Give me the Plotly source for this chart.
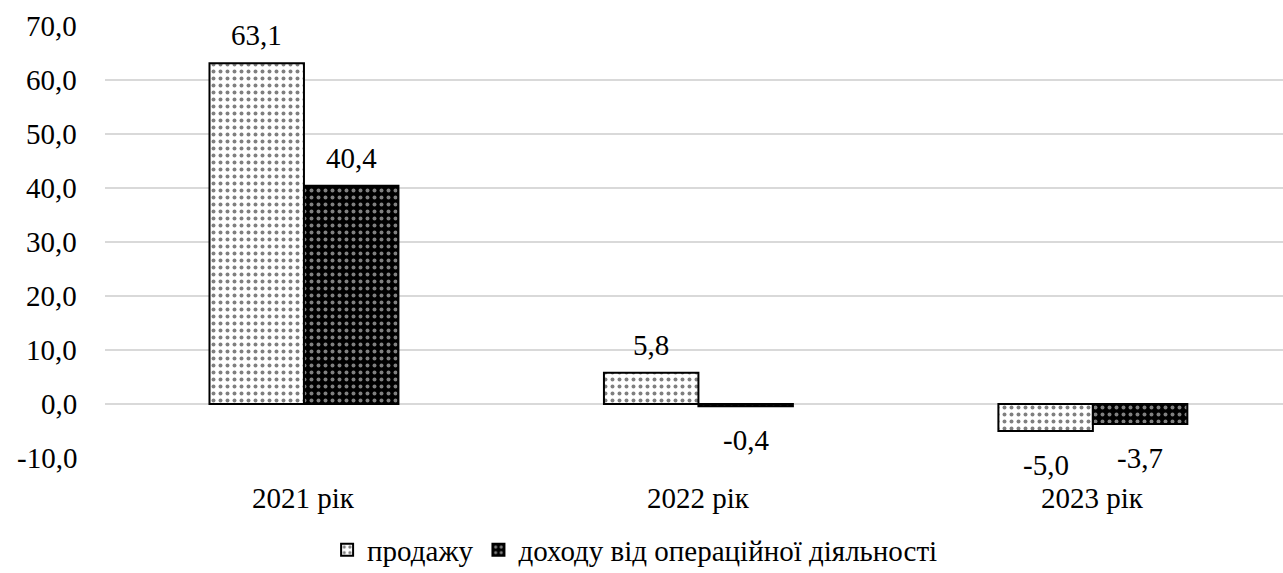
import plotly.graph_objects as go

categories = ["2021 рік", "2022 рік", "2023 рік"]
sales = [63.1, 5.8, -5.0]
income = [40.4, -0.4, -3.7]
series_names = ["продажу", "доходу від операційної діяльності"]
y_ticks = [-10, 0, 10, 20, 30, 40, 50, 60, 70]


def fmt(v):
    return f"{v:.1f}".replace(".", ",")


FF = "Liberation Serif, Times New Roman, serif"
FS = 29
TXT = dict(family=FF, size=FS, color="black")

W, H = 1283, 573
L, R, T, B = 105, 0, 26, 115
X_RANGE = [-0.5044, 2.482]
BARGAP = 0.521

fig = go.Figure()
fig.add_trace(go.Bar(
    x=categories, y=sales, name=series_names[0], hoverinfo="skip",
    marker=dict(color="white", line=dict(color="black", width=2),
                pattern=dict(shape=".", fgcolor="black", bgcolor="white", size=7, solidity=0.25)),
))
fig.add_trace(go.Bar(
    x=categories, y=income, name=series_names[1], hoverinfo="skip",
    marker=dict(color="black", line=dict(color="black", width=2),
                pattern=dict(shape=".", fgcolor="white", bgcolor="black", size=7, solidity=0.25)),
))

# pixel width of one bar (derived from the axis scale and bargap)
cat_px = (W - L - R) / (X_RANGE[1] - X_RANGE[0])
bar_px = cat_px * (1 - BARGAP) / 2

annotations = []
# y-axis tick labels
for v in y_ticks:
    annotations.append(dict(xref="paper", x=0, yref="y", y=v, xanchor="right", yanchor="middle",
                            xshift=-26, text=fmt(v), showarrow=False, font=TXT))
# x-axis category labels
for c in categories:
    annotations.append(dict(xref="x", x=c, yref="paper", y=0, xanchor="center", yanchor="middle",
                            yshift=-40, text=c, showarrow=False, font=TXT))
# data labels
for series, side in ((sales, -1), (income, 1)):
    for c, v in zip(categories, series):
        annotations.append(dict(xref="x", x=c, yref="y", y=v, xanchor="center", yanchor="middle",
                                xshift=side * bar_px / 2, yshift=28 if v >= 0 else -34,
                                text=fmt(v), showarrow=False, font=TXT))

fig.update_layout(
    width=W, height=H,
    paper_bgcolor="white", plot_bgcolor="white",
    barmode="group", bargap=BARGAP, bargroupgap=0,
    font=TXT, hovermode=False,
    margin=dict(l=L, r=R, t=T, b=B, autoexpand=False),
    showlegend=True,
    legend=dict(orientation="h", x=0.45, xanchor="center", y=-0.213, yanchor="middle",
                font=TXT, bgcolor="rgba(0,0,0,0)",
                traceorder="normal", itemwidth=30),
    yaxis=dict(range=[-10, 70], tickvals=y_ticks, showticklabels=False,
               showgrid=True, gridcolor="#d9d9d9", gridwidth=1.5,
               zeroline=True, zerolinecolor="#d9d9d9", zerolinewidth=1.5,
               showline=False, ticks="", automargin=False),
    xaxis=dict(range=X_RANGE, showline=False, showgrid=False, zeroline=False,
               showticklabels=False, ticks="", automargin=False),
    annotations=annotations,
)

fig.write_html("out.html", config={"displayModeBar": False},
               post_script="document.body.style.margin='0';")
